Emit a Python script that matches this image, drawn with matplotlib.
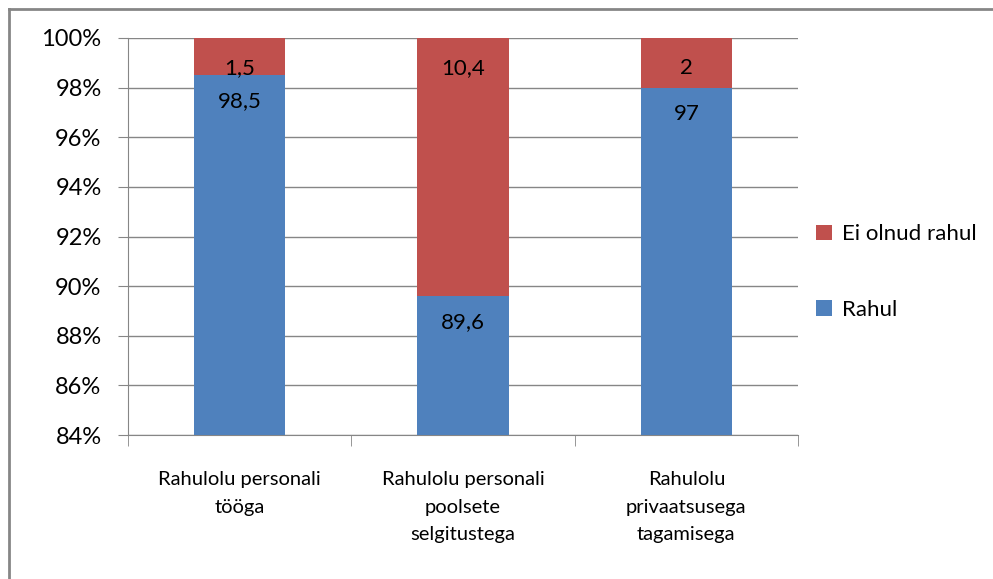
import matplotlib.pyplot as plt
from matplotlib.lines import Line2D
import numpy as np

categories = ["Rahulolu personali\ntööga",
              "Rahulolu personali\npoolsete\nselgitustega",
              "Rahulolu\nprivaatsusega\ntagamisega"]
rahul = [98.5, 89.6, 97]
ei_rahul = [1.5, 10.4, 2]
rahul_labels = ["98,5", "89,6", "97"]
ei_labels = ["1,5", "10,4", "2"]

blue = "#4F81BD"
red = "#C0504D"
plt.rcParams['font.family'] = ['Lato', 'DejaVu Sans']

# 100% stacked: normalise each column
tot = np.array(rahul) + np.array(ei_rahul)
rahul_pct = np.array(rahul) / tot * 100
ei_pct = np.array(ei_rahul) / tot * 100

fig = plt.figure(figsize=(9.93, 5.79), dpi=100)
ax = fig.add_axes([128/993, 1 - 435/579, 670/993, 397/579])

x = np.arange(len(categories))
w = 0.41
ax.bar(x, rahul_pct, w, color=blue, label="Rahul", zorder=3)
ax.bar(x, ei_pct, w, bottom=rahul_pct, color=red, label="Ei olnud rahul", zorder=3)

for i in range(len(x)):
    ax.text(x[i], 98.79, ei_labels[i], ha="center", va="center", fontsize=16, zorder=4)
    ax.text(x[i], rahul_pct[i] - 1.05, rahul_labels[i], ha="center", va="center", fontsize=16, zorder=4)

ax.set_xlim(-0.5, 2.5)
ax.set_ylim(84, 100)
ax.set_yticks(np.arange(84, 101, 2))
ax.set_yticklabels([f"{v}%" for v in range(84, 101, 2)], fontsize=17)
ax.yaxis.grid(True, color="#868686", linewidth=1, zorder=0)
ax.set_xticks(x)
ax.set_xticklabels(categories, fontsize=14.5, linespacing=1.75)
ax.tick_params(axis="x", length=0, pad=26)
ax.set_xticks([-0.5, 0.5, 1.5, 2.5], minor=True)
ax.tick_params(axis="x", which="minor", length=8, color="#868686", direction="out")
ax.tick_params(axis="y", length=7, color="#868686", direction="out", pad=12)
for s in ["top", "right"]:
    ax.spines[s].set_visible(False)
ax.spines["left"].set_color("#868686")
ax.spines["bottom"].set_color("#868686")

handles, labels = ax.get_legend_handles_labels()
fig.legend(handles[::-1], labels[::-1], loc="center left", bbox_to_anchor=(796/993, 1 - 272/579),
           frameon=False, fontsize=16, handlelength=0.7, handleheight=0.7,
           labelspacing=2.5, handletextpad=0.45)

# outer chart frame: only top and left edges visible
fig.lines.append(Line2D([8.5/993, 1], [1 - 9/579, 1 - 9/579], transform=fig.transFigure,
                        color="#868686", linewidth=2))
fig.lines.append(Line2D([8.5/993, 8.5/993], [0, 1 - 9/579], transform=fig.transFigure,
                        color="#868686", linewidth=2))

plt.savefig("out.png", dpi=100)
